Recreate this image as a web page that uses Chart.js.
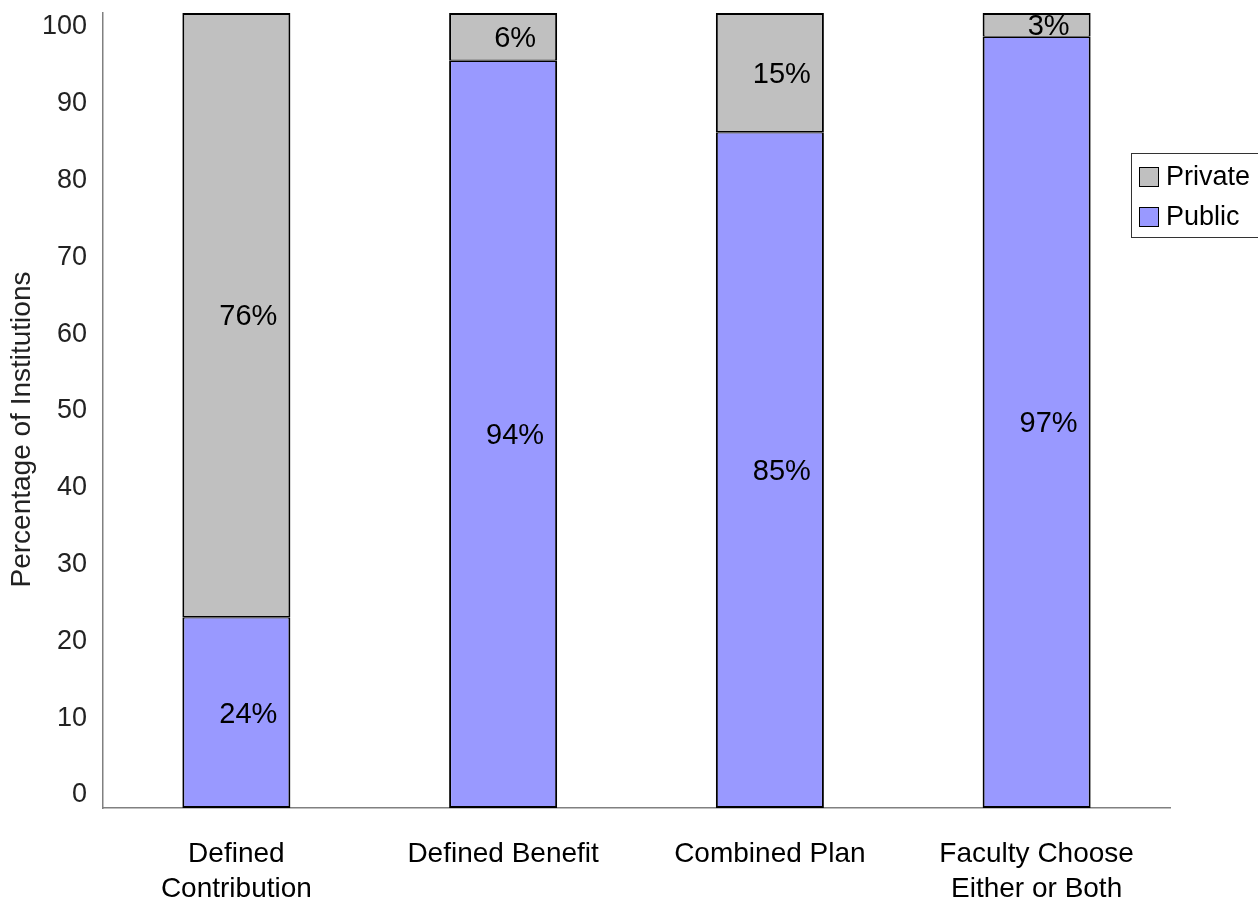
<!DOCTYPE html>
<html>
<head>
<meta charset="utf-8">
<script src="https://cdn.jsdelivr.net/npm/chart.js@4.4.1/dist/chart.umd.min.js"></script>
<style>
  html, body { margin: 0; padding: 0; background: #fff; }
  #wrap { width: 1258px; height: 902px; position: relative; }
</style>
</head>
<body>
<div id="wrap"><canvas id="planChart"></canvas></div>
<script>
const categories = [['Defined', 'Contribution'], 'Defined Benefit', 'Combined Plan', ['Faculty Choose', 'Either or Both']];
const publicValues = [24, 94, 85, 97];
const privateValues = [76, 6, 15, 3];
const tickValues = [0, 10, 20, 30, 40, 50, 60, 70, 80, 90, 100];
const yTitle = 'Percentage of Institutions';

const FONT = "'Liberation Sans', Arial, sans-serif";

// labels sit in the middle of each segment, nudged right like the original
const segmentLabels = {
    id: 'segmentLabels',
    afterDatasetsDraw(chart) {
        const ctx = chart.ctx;
        ctx.save();
        ctx.font = '29px ' + FONT;
        ctx.fillStyle = '#000';
        ctx.textAlign = 'center';
        ctx.textBaseline = 'middle';
        chart.data.datasets.forEach((ds, i) => {
            chart.getDatasetMeta(i).data.forEach((bar, j) => {
                const y = (bar.y + bar.base) / 2;
                ctx.fillText(ds.data[j] + '%', bar.x + 12, y + 2);
            });
        });
        ctx.restore();
    }
};

// rotated axis title, sitting a bit below the middle of the axis as in the original
const axisTitle = {
    id: 'axisTitle',
    afterDraw(chart) {
        const ctx = chart.ctx;
        const area = chart.chartArea;
        ctx.save();
        ctx.translate(22, (area.top + area.bottom) / 2 + 19);
        ctx.rotate(-Math.PI / 2);
        ctx.font = '28px ' + FONT;
        ctx.fillStyle = '#222';
        ctx.textAlign = 'center';
        ctx.textBaseline = 'middle';
        ctx.fillText(yTitle, 0, 0);
        ctx.restore();
    }
};

// boxed legend overlapping the right edge of the plot
const boxLegend = {
    id: 'boxLegend',
    afterDraw(chart) {
        const ctx = chart.ctx;
        const items = chart.data.datasets.slice().reverse();
        ctx.save();
        ctx.strokeStyle = '#333';
        ctx.lineWidth = 1;
        ctx.fillStyle = '#fff';
        ctx.fillRect(1131.5, 153.5, 140, 84);
        ctx.strokeRect(1131.5, 153.5, 140, 84);
        ctx.font = '27px ' + FONT;
        ctx.textBaseline = 'middle';
        items.forEach((ds, k) => {
            const cy = 177 + k * 40;
            ctx.fillStyle = ds.backgroundColor;
            ctx.fillRect(1139.5, cy - 9.5, 19, 19);
            ctx.strokeStyle = '#000';
            ctx.strokeRect(1139.5, cy - 9.5, 19, 19);
            ctx.fillStyle = '#000';
            ctx.fillText(ds.label, 1166, cy + 1);
        });
        ctx.restore();
    }
};

const noPad = s => { s.paddingTop = 0; s.paddingBottom = 0; s.paddingLeft = 0; s.paddingRight = 0; };

const ctx = document.getElementById('planChart').getContext('2d');

new Chart(ctx, {
    type: 'bar',
    data: {
        labels: categories,
        datasets: [{
            label: 'Public',
            data: publicValues,
            backgroundColor: '#9999FF',
            borderColor: '#000',
            borderWidth: { top: 1.2, right: 2, bottom: 2, left: 2 },
            borderSkipped: false
        }, {
            label: 'Private',
            data: privateValues,
            backgroundColor: '#C0C0C0',
            borderColor: '#000',
            borderWidth: { top: 2, right: 2, bottom: 1.2, left: 2 },
            borderSkipped: false
        }]
    },
    options: {
        responsive: true,
        maintainAspectRatio: false,
        animation: false,
        layout: { autoPadding: false, padding: { top: 13, right: 88, bottom: 0, left: 0 } },
        datasets: { bar: { categoryPercentage: 1, barPercentage: 0.405 } },
        plugins: {
            legend: { display: false },
            tooltip: { enabled: false }
        },
        scales: {
            x: {
                stacked: true,
                grid: { display: false, drawTicks: false },
                border: { color: '#808080', width: 1.5 },
                ticks: {
                    color: '#000',
                    padding: 29,
                    maxRotation: 0,
                    autoSkip: false,
                    font: { family: FONT, size: 28, lineHeight: 1.25 }
                },
                afterFit: s => { s.height = 94; noPad(s); }
            },
            y: {
                stacked: true,
                min: 0,
                max: 100,
                weight: 0,
                grid: { display: false, drawTicks: false },
                border: { color: '#808080', width: 1.5 },
                ticks: { display: false },
                afterFit: s => { s.width = 0; noPad(s); }
            },
            // label axis: the original's tick labels are spaced a little tighter than the bars
            yl: {
                type: 'linear',
                position: 'left',
                weight: 1,
                min: -1.693,
                max: 101.823,
                grid: { display: false, drawTicks: false },
                border: { display: false },
                afterBuildTicks: s => { s.ticks = tickValues.map(v => ({ value: v })); },
                ticks: {
                    color: '#222',
                    padding: 16,
                    font: { family: FONT, size: 27 }
                },
                afterFit: s => { s.width = 103; noPad(s); }
            }
        }
    },
    plugins: [segmentLabels, axisTitle, boxLegend]
});
</script>
</body>
</html>
